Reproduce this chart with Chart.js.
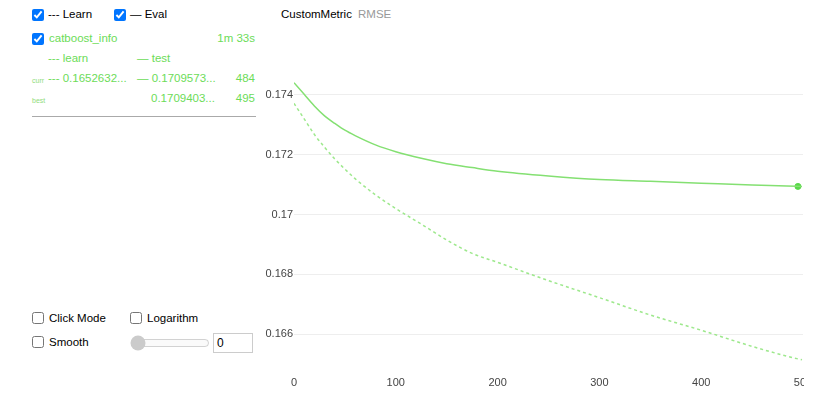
<!DOCTYPE html>
<html>
<head>
<meta charset="utf-8">
<script src="https://cdn.jsdelivr.net/npm/chart.js@4"></script>
<style>
  body { margin: 0; width: 816px; height: 399px; background: #fff; font-family: Arial, "Liberation Sans", sans-serif; font-size: 11.5px; overflow: hidden; }
  .abs { position: absolute; white-space: nowrap; }
  .cb { position: absolute; margin: 0; width: 12px; height: 12px; }
  .green { color: #6cdc58; }
  .tiny { font-size: 7px; color: #8fdc7c; }
  #clip { position: absolute; left: 250px; top: 30px; width: 554px; height: 369px; overflow: hidden; }
  #chartBox { position: absolute; left: 0; top: 0; width: 558px; height: 369px; }
</style>
</head>
<body>
<!-- top controls -->
<input type="checkbox" class="cb" style="left:32px;top:9px" checked>
<div class="abs" style="left:48px;top:8px">--- Learn</div>
<input type="checkbox" class="cb" style="left:114px;top:9px" checked>
<div class="abs" style="left:130px;top:8px">— Eval</div>

<input type="checkbox" class="cb" style="left:32px;top:33px" checked>
<div class="abs green" style="left:49px;top:32px">catboost_info</div>
<div class="abs green" style="right:561px;top:32px">1m 33s</div>

<div class="abs green" style="left:48px;top:52px">--- learn</div>
<div class="abs green" style="left:137px;top:52px">— test</div>

<div class="abs tiny" style="left:32px;top:77px">curr</div>
<div class="abs green" style="left:48px;top:72px">--- 0.1652632...</div>
<div class="abs green" style="left:137px;top:72px">— 0.1709573...</div>
<div class="abs green" style="right:561px;top:72px">484</div>

<div class="abs tiny" style="left:32px;top:97px">best</div>
<div class="abs green" style="left:151px;top:92px">0.1709403...</div>
<div class="abs green" style="right:561px;top:92px">495</div>

<div class="abs" style="left:32px;top:116px;width:224px;height:1px;background:#aaa"></div>

<!-- bottom controls -->
<input type="checkbox" class="cb" style="left:32px;top:312px">
<div class="abs" style="left:49px;top:312px">Click Mode</div>
<input type="checkbox" class="cb" style="left:130px;top:312px">
<div class="abs" style="left:147px;top:312px">Logarithm</div>
<input type="checkbox" class="cb" style="left:32px;top:336px">
<div class="abs" style="left:49px;top:336px">Smooth</div>
<input type="range" class="abs" min="0" max="100" value="0" disabled style="left:130px;top:335px;width:80px;margin:0">
<input type="text" class="abs" value="0" style="left:213px;top:333px;width:32px;height:16px;padding:1px 3px;border:1px solid #ccc;font-size:12px;font-family:Arial">

<!-- chart header -->
<div class="abs" style="left:281px;top:8px;color:#000">CustomMetric</div>
<div class="abs" style="left:358px;top:8px;color:#999">RMSE</div>

<div id="clip"><div id="chartBox"><canvas id="metricChart"></canvas></div></div>

<script>
const iterations = [0, 10, 20, 30, 40, 50, 60, 80, 100, 125, 150, 175, 200, 250, 300, 350, 400, 450, 484, 499];
const testValues = [0.17441, 0.17402, 0.17363, 0.17330, 0.17305, 0.17282, 0.17264, 0.17233, 0.17210, 0.17188,
  0.17170, 0.17157, 0.17145, 0.17129, 0.17117, 0.17111, 0.17105, 0.17099, 0.1709573, 0.17094];
const learnValues = [0.17372, 0.17320, 0.17268, 0.17225, 0.17186, 0.17152, 0.17120, 0.17066, 0.17020, 0.16968,
  0.16915, 0.16870, 0.16840, 0.16779, 0.16722, 0.16664, 0.16613, 0.16559, 0.1652632, 0.16514];
const bestIteration = 495;
const bestValue = 0.1709403;
const yTicks = [0.166, 0.168, 0.170, 0.172, 0.174];
const xTicks = [0, 100, 200, 300, 400, 500];

Chart.defaults.font.family = 'Arial, "Liberation Sans", sans-serif';

const toPoints = (xs, ys) => xs.map((x, i) => ({ x: x, y: ys[i] }));

const ctx = document.getElementById('metricChart').getContext('2d');
const metricChart = new Chart(ctx, {
  type: 'line',
  data: {
    datasets: [
      {
        label: 'test',
        data: toPoints(iterations, testValues),
        borderColor: 'rgb(132, 224, 114)',
        borderWidth: 1.5,
        pointRadius: 0,
        cubicInterpolationMode: 'monotone'
      },
      {
        label: 'learn',
        data: toPoints(iterations, learnValues),
        borderColor: 'rgba(140, 228, 120, 0.85)',
        borderWidth: 1.5,
        borderDash: [3, 3],
        pointRadius: 0,
        cubicInterpolationMode: 'monotone'
      },
      {
        label: 'best',
        data: [{ x: bestIteration, y: bestValue }],
        showLine: false,
        pointRadius: 3,
        pointBackgroundColor: '#58d848',
        pointBorderColor: '#58d848'
      }
    ]
  },
  options: {
    responsive: true,
    maintainAspectRatio: false,
    animation: false,
    layout: { padding: { top: 44, right: 1, left: 0, bottom: 0 } },
    plugins: { legend: { display: false }, tooltip: { enabled: false } },
    scales: {
      x: {
        type: 'linear',
        min: 0,
        max: 500,
        grid: { display: false, drawTicks: false },
        border: { display: false },
        ticks: { color: '#444', font: { size: 11 }, padding: 3, maxRotation: 0 },
        afterBuildTicks: s => { s.ticks = xTicks.map(v => ({ value: v })); },
        afterFit: s => { s.height = 26; s.paddingLeft = 0; s.paddingRight = 0; }
      },
      y: {
        min: 0.1647,
        max: 0.1747,
        grid: { color: '#eeeeee', drawTicks: false },
        border: { display: false },
        ticks: {
          color: '#444',
          font: { size: 11 },
          padding: 1,
          callback: v => String(+v.toFixed(3))
        },
        afterBuildTicks: s => { s.ticks = yTicks.map(v => ({ value: v })); },
        afterFit: s => { s.width = 44; }
      }
    }
  }
});
</script>
</body>
</html>
